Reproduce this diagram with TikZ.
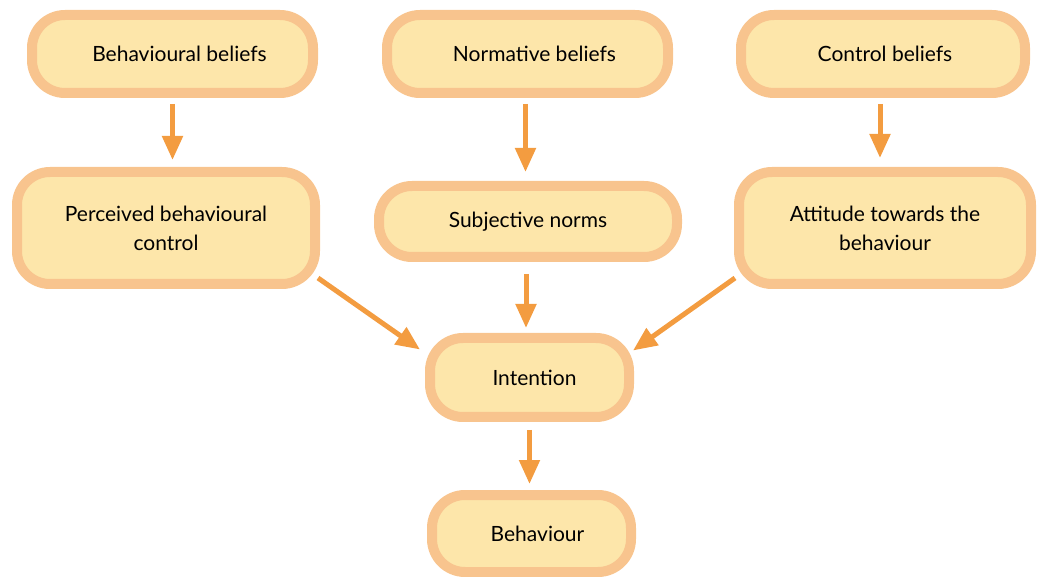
\documentclass[tikz,border=0pt]{standalone}
\usepackage{fontspec}
\setmainfont{Lato}
\usetikzlibrary{arrows.meta,calc}
\definecolor{boxfill}{HTML}{FDE6AA}
\definecolor{boxline}{HTML}{F8C48E}
\definecolor{arrcol}{HTML}{F39C40}
\tikzset{
  box/.style={draw=boxline, fill=boxfill, line width=10pt, rounded corners=33pt,
    outer sep=0pt, align=center, font=\fontsize{21}{29}\selectfont, text=black},
  arr/.style={draw=arrcol, line width=5pt, -{Triangle[width=20pt,length=24pt]}}
}
\begin{document}
\begin{tikzpicture}[x=1pt,y=-1pt]
\useasboundingbox (0,0) rectangle (1037,577);
\node[box, minimum width=281pt, minimum height=78pt] (bb) at (172.5,54) {\hspace{14pt}Behavioural beliefs};
\node[box, minimum width=281pt, minimum height=78pt] (nb) at (527.5,54) {\hspace{14pt}Normative beliefs};
\node[box, minimum width=284pt, minimum height=78pt] (cb) at (883,54) {\hspace{4pt}Control beliefs};
\node[box, minimum width=298pt, minimum height=112pt] (pbc) at (166,228) {Perceived behavioural\\control};
\node[box, minimum width=298pt, minimum height=71pt] (sn) at (528,221.5) {Subjective norms};
\node[box, minimum width=292pt, minimum height=112pt] (att) at (885,228) {Attitude towards the\\behaviour};
\node[box, minimum width=199pt, minimum height=79pt] (int) at (529.5,377.5) {\hspace{10pt}Intention};
\node[box, minimum width=199pt, minimum height=77pt] (beh) at (531.5,533.5) {\hspace{12pt}Behaviour};
\draw[arr] ([yshift=-11pt]bb.south) -- ([yshift=12pt]bb.south |- pbc.north);
\draw[arr] ([xshift=-2pt,yshift=-11pt]nb.south) -- ([xshift=-2pt,yshift=14pt]nb.south |- sn.north);
\draw[arr] ([xshift=-3pt,yshift=-11pt]cb.south) -- ([xshift=-3pt,yshift=14pt]cb.south |- att.north);
\draw[arr] ([xshift=-2pt,yshift=-17pt]sn.south) -- ([xshift=-2pt,yshift=10pt]sn.south |- int.north);
\draw[arr] ([yshift=-13pt]int.south) -- ([yshift=11pt]int.south |- beh.north);
\draw[arr] ($(pbc.south east)+(3,-6)$) -- ($(int.west)+(-10,-28)$);
\draw[arr] ($(att.south west)+(-4,-6)$) -- ($(int.east)+(4,-27)$);
\end{tikzpicture}
\end{document}
